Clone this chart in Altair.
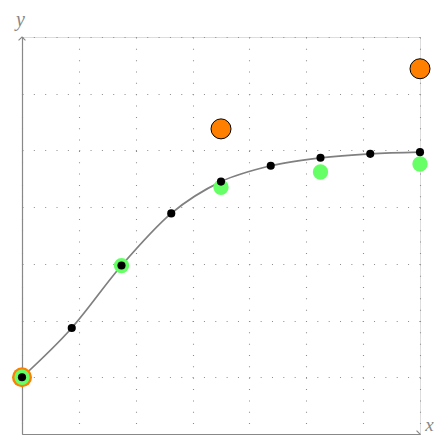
import altair as alt
import pandas as pd

# data
x_black = [0, 0.875, 1.75, 2.625, 3.5, 4.375, 5.25, 6.125, 7]
y_black = [1.0, 1.87, 2.97, 3.89, 4.45, 4.73, 4.87, 4.94, 4.97]
x_green = [0, 1.75, 3.5, 5.25, 7]
y_green = [1.0, 2.97, 4.35, 4.62, 4.76]
x_orange = [0, 3.5, 7]
y_orange = [1.0, 5.38, 6.44]
grid_ticks = [0, 1, 2, 3, 4, 5, 6, 7]
axis_max = 7

black = pd.DataFrame({"x": x_black, "y": y_black})
green = pd.DataFrame({"x": x_green, "y": y_green})
orange = pd.DataFrame({"x": x_orange, "y": y_orange})

GRAY = "#888888"
FONT = "Liberation Serif"

xs = alt.Scale(domain=[0, axis_max], nice=False, zero=False)
ys = alt.Scale(domain=[0, axis_max], nice=False, zero=False)

xaxis = alt.Axis(values=grid_ticks, labels=False, ticks=False, domainColor=GRAY,
                 domainWidth=1.2, gridColor="#8c8c8c", gridDash=[1, 10.34],
                 gridWidth=1.1, title="x", titleFont=FONT, titleFontStyle="italic",
                 titleFontWeight="normal", titleFontSize=19, titleColor=GRAY,
                 titleX=407, titleY=-10, titleAlign="center", titleBaseline="middle")
yaxis = alt.Axis(values=grid_ticks, labels=False, ticks=False, domainColor=GRAY,
                 domainWidth=1.2, gridColor="#8c8c8c", gridDash=[1, 10.34],
                 gridWidth=1.1, title="y", titleFont=FONT, titleFontStyle="italic",
                 titleFontWeight="normal", titleFontSize=20, titleColor=GRAY,
                 titleAngle=0, titleX=-2, titleY=-18, titleAlign="center",
                 titleBaseline="middle")

base = alt.Chart(black)

curve = base.mark_line(color="#808080", strokeWidth=1.7, interpolate="monotone").encode(
    x=alt.X("x:Q", scale=xs, axis=xaxis),
    y=alt.Y("y:Q", scale=ys, axis=yaxis),
)

orange_pts = alt.Chart(orange).mark_point(filled=True, fill="#ff8000", stroke="black",
                                           strokeWidth=1, opacity=1, size=400).encode(
    x=alt.X("x:Q", scale=xs),
    y=alt.Y("y:Q", scale=ys),
    strokeOpacity=alt.condition("datum.x == 0", alt.value(0), alt.value(1)),
)

green_pts = alt.Chart(green).mark_point(filled=True, color="#66ff66", opacity=1, size=235).encode(
    x=alt.X("x:Q", scale=xs),
    y=alt.Y("y:Q", scale=ys),
)

black_pts = base.mark_point(filled=True, color="black", opacity=1, size=66).encode(
    x=alt.X("x:Q", scale=xs),
    y=alt.Y("y:Q", scale=ys),
)

arrows = pd.DataFrame({
    "x": [axis_max, 0],
    "y": [0, axis_max],
    "shape": ["M -1 -1 L 0 0 L -1 1", "M -1 1 L 0 0 L 1 1"],
})
arrow_marks = alt.Chart(arrows).mark_point(filled=False, color=GRAY, strokeWidth=1.1,
                                           opacity=1, size=48).encode(
    x=alt.X("x:Q", scale=xs),
    y=alt.Y("y:Q", scale=ys),
    shape=alt.Shape("shape:N", scale=None, legend=None),
)

chart = alt.layer(curve, arrow_marks, orange_pts, green_pts, black_pts).properties(
    width=398, height=397,
    autosize=alt.AutoSizeParams(type="none"),
    padding={"left": 14, "top": 29, "right": 15, "bottom": 1},
).configure_view(stroke=None).configure(background="white")

chart.save("out.html", embed_options={"renderer": "svg", "actions": False})
